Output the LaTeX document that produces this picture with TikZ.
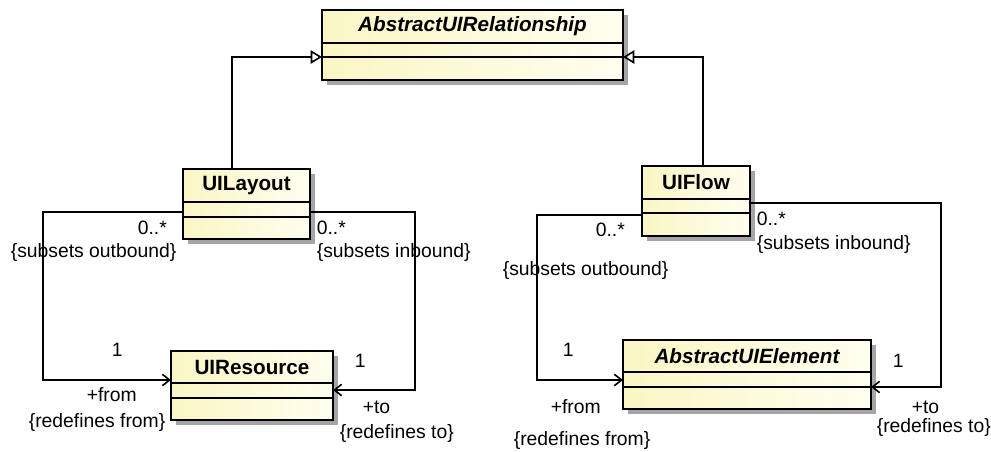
\documentclass[tikz,border=0pt]{standalone}
\usepackage{fontspec}
\setmainfont{Liberation Sans}
\usetikzlibrary{arrows.meta,calc,shadows,positioning}
\definecolor{clsfillA}{RGB}{250,246,196}
\definecolor{clsfillB}{RGB}{255,255,240}
\definecolor{shadowgray}{RGB}{165,165,165}

\begin{document}
\begin{tikzpicture}[
  x=0.75pt, y=-0.75pt,
  line width=1.2pt,
  cls/.style={draw, rectangle, anchor=north west, inner sep=0pt, outer sep=0pt,
    left color=clsfillA, right color=clsfillB,
    drop shadow={shadow xshift=3.5pt, shadow yshift=-3.5pt, fill=shadowgray, opacity=1}},
  cname/.style={font=\fontsize{15.5}{18}\selectfont\bfseries, inner sep=0pt},
  aname/.style={cname, font=\fontsize{15.5}{18}\selectfont\bfseries\itshape},
  lbl/.style={font=\fontsize{14.5}{17}\selectfont, anchor=west, inner sep=0pt},
  gen/.style={-{Triangle[open, length=8.5pt, width=10pt]}},
  assoc/.style={-{Straight Barb[length=5.5pt, width=8.5pt]}},
]
\useasboundingbox (0,0) rectangle (991,452);
% classes
\node[cls, minimum width=225.75pt, minimum height=52.5pt] (AbsRel) at (322,10) {};
\node[aname] (AbsRelT) at ($(AbsRel.north)+(0,16.5)$) {AbstractUIRelationship};
\draw ($(AbsRel.north west)+(0,33)$) -- ($(AbsRel.north east)+(0,33)$);
\draw ($(AbsRel.north west)+(0,47)$) -- ($(AbsRel.north east)+(0,47)$);

\node[cls, minimum width=95.25pt, minimum height=52.5pt] (UILayout) at (183,169) {};
\node[cname] (UILayoutT) at ($(UILayout.north)+(0,16.5)$) {UILayout};
\draw ($(UILayout.north west)+(0,33)$) -- ($(UILayout.north east)+(0,33)$);
\draw ($(UILayout.north west)+(0,48)$) -- ($(UILayout.north east)+(0,48)$);

\node[cls, minimum width=121.5pt, minimum height=51.75pt] (UIResource) at (171,351) {};
\node[cname] (UIResourceT) at ($(UIResource.north)+(0,16)$) {UIResource};
\draw ($(UIResource.north west)+(0,32)$) -- ($(UIResource.north east)+(0,32)$);
\draw ($(UIResource.north west)+(0,47)$) -- ($(UIResource.north east)+(0,47)$);

\node[cls, minimum width=81pt, minimum height=52.5pt] (UIFlow) at (642,166) {};
\node[cname] (UIFlowT) at ($(UIFlow.north)+(0,16.5)$) {UIFlow};
\draw ($(UIFlow.north west)+(0,33)$) -- ($(UIFlow.north east)+(0,33)$);
\draw ($(UIFlow.north west)+(0,47)$) -- ($(UIFlow.north east)+(0,47)$);

\node[cls, minimum width=186pt, minimum height=51.75pt] (AbsElem) at (623,340) {};
\node[aname] (AbsElemT) at ($(AbsElem.north)+(0,16)$) {AbstractUIElement};
\draw ($(AbsElem.north west)+(0,32)$) -- ($(AbsElem.north east)+(0,32)$);
\draw ($(AbsElem.north west)+(0,47)$) -- ($(AbsElem.north east)+(0,47)$);

% generalizations
\draw[gen] ($(UILayout.north west)+(49,0)$) |- ($(AbsRel.north west)+(0,47)$);
\draw[gen] ($(UIFlow.north west)+(61,0)$) |- ($(AbsRel.north east)+(0,47)$);

% associations
\draw[assoc] ($(UILayout.north west)+(0,43)$) -- ++(-140,0) |- ($(UIResource.north west)+(0,29)$);
\draw[assoc] ($(UILayout.north east)+(0,43)$) -- ++(105,0) |- ($(UIResource.north east)+(0,39)$);
\draw[assoc] ($(UIFlow.north west)+(0,49)$) -- ++(-105,0) |- ($(AbsElem.north west)+(0,40)$);
\draw[assoc] ($(UIFlow.north east)+(0,37)$) -- ++(191,0) |- ($(AbsElem.north east)+(0,47)$);

% association end labels
\node[lbl] (m1) at (137,228) {0..*};
\node[lbl] (r1) at (10,253) {\{subsets outbound\}};
\node[lbl] (m2) at (316,228) {0..*};
\node[lbl] (r2) at (316,253) {\{subsets inbound\}};
\node[lbl] (m3) at (111,350) {1};
\node[lbl] (e3) at (86,395) {+from};
\node[lbl] (r3) at (28,422) {\{redefines from\}};
\node[lbl] (m4) at (354,361) {1};
\node[lbl] (e4) at (362,407) {+to};
\node[lbl] (r4) at (339,433) {\{redefines to\}};

\node[lbl] (m5) at (595,230) {0..*};
\node[lbl] (r5) at (502,271) {\{subsets outbound\}};
\node[lbl] (m6) at (756,219) {0..*};
\node[lbl] (r6) at (756,245) {\{subsets inbound\}};
\node[lbl] (m7) at (562,350) {1};
\node[lbl] (e7) at (550,407) {+from};
\node[lbl] (r7) at (513,440) {\{redefines from\}};
\node[lbl] (m8) at (892,361) {1};
\node[lbl] (e8) at (911,407) {+to};
\node[lbl] (r8) at (876,427) {\{redefines to\}};
\end{tikzpicture}
\end{document}
